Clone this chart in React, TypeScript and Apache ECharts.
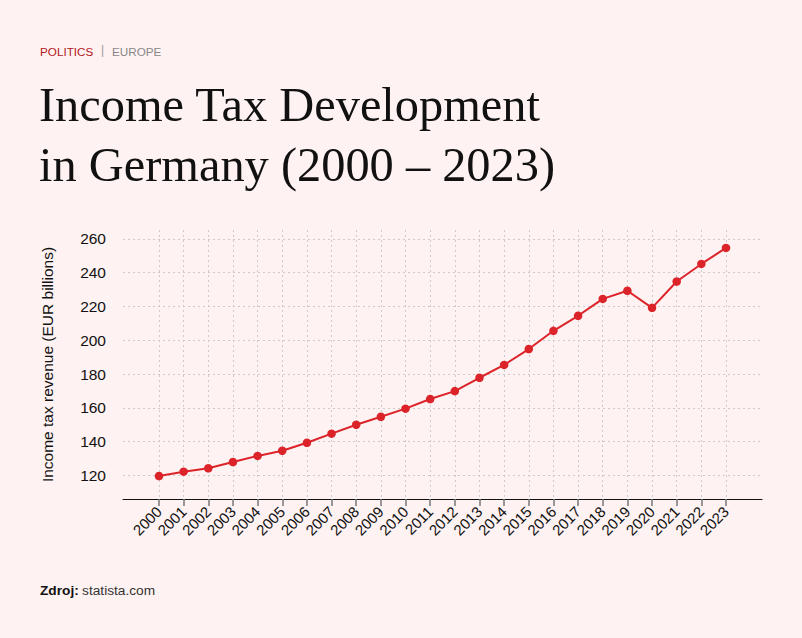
import React, { useEffect, useRef } from "react";
import * as echarts from "echarts";

const years = [
  "2000", "2001", "2002", "2003", "2004", "2005", "2006", "2007", "2008", "2009", "2010", "2011",
  "2012", "2013", "2014", "2015", "2016", "2017", "2018", "2019", "2020", "2021", "2022", "2023",
];
const revenue = [
  119.6, 122.2, 124.2, 127.9, 131.5, 134.6, 139.3, 144.7, 150.0, 154.7, 159.5, 165.2,
  169.9, 177.8, 185.4, 194.8, 205.6, 214.5, 224.5, 229.3, 219.2, 234.8, 245.2, 254.7,
];
const yTicks = [120, 140, 160, 180, 200, 220, 240, 260];

const BG = "#fef2f2";
const RED = "#dc2329";
const SANS = "'Liberation Sans', Arial, Helvetica, sans-serif";
const SERIF = "'Liberation Serif', 'Times New Roman', serif";

export default function App() {
  const ref = useRef<HTMLDivElement>(null);

  useEffect(() => {
    document.body.style.margin = "0";
    document.body.style.background = BG;
    if (!ref.current) return;
    const chart = echarts.init(ref.current, null, { renderer: "svg" });
    const yMin = 106;
    const yMax = 265.3;
    const gridTop = 230;
    const gridBottom = 139;
    chart.setOption({
      animation: false,
      backgroundColor: BG,
      graphic: [
        {
          type: "text",
          left: 40,
          top: 45,
          style: {
            text: "POLITICS",
            font: `11.7px ${SANS}`,
            fill: "#b3161c",
          },
        },
        {
          type: "text",
          left: 101,
          top: 44,
          style: { text: "|", font: `12px ${SANS}`, fill: "#9a9a9a" },
        },
        {
          type: "text",
          left: 112,
          top: 45,
          style: { text: "EUROPE", font: `11.7px ${SANS}`, fill: "#888888" },
        },
        {
          type: "text",
          left: 39,
          top: 80,
          style: {
            text: "Income Tax Development",
            font: `48.4px ${SERIF}`,
            fill: "#111111",
          },
        },
        {
          type: "text",
          left: 39,
          top: 140,
          style: {
            text: "in Germany (2000 – 2023)",
            font: `48.4px ${SERIF}`,
            fill: "#111111",
          },
        },
        {
          type: "text",
          left: 40,
          top: 583,
          style: {
            text: "{b|Zdroj:} {n|statista.com}",
            rich: {
              b: { font: `bold 13.7px ${SANS}`, fill: "#111111" },
              n: { font: `13.7px ${SANS}`, fill: "#333333" },
            },
          },
        },
      ],
      grid: [
        { left: 159, right: 76, top: gridTop, bottom: gridBottom },
        { left: 123, right: 40, top: gridTop, bottom: gridBottom },
      ],
      xAxis: [
        {
          type: "category",
          gridIndex: 0,
          data: years,
          boundaryGap: false,
          axisLine: { show: false },
          axisTick: { show: true, length: 7, lineStyle: { color: "#777777", width: 1.5 } },
          axisLabel: {
            rotate: 45,
            interval: 0,
            margin: 10,
            color: "#111111",
            fontSize: 15,
            fontFamily: SANS,
          },
          splitLine: {
            show: true,
            lineStyle: { color: "#cccccc", type: [2, 3], width: 1 },
          },
        },
        {
          type: "value",
          gridIndex: 1,
          min: 0,
          max: 1,
          axisLine: { show: true, lineStyle: { color: "#111111", width: 1 } },
          axisTick: { show: false },
          axisLabel: { show: false },
          splitLine: { show: false },
        },
      ],
      yAxis: [
        {
          type: "value",
          gridIndex: 0,
          min: yMin,
          max: yMax,
          show: false,
          splitLine: { show: false },
        },
        {
          type: "value",
          gridIndex: 1,
          min: yMin,
          max: yMax,
          name: "Income tax revenue (EUR billions)",
          nameLocation: "middle",
          nameGap: 68,
          nameTextStyle: { color: "#111111", fontSize: 15.5, fontFamily: SANS },
          axisLine: { show: false },
          axisTick: { show: false, customValues: yTicks },
          axisLabel: {
            customValues: yTicks,
            margin: 17,
            color: "#111111",
            fontSize: 15.5,
            fontFamily: SANS,
          },
          splitLine: {
            show: true,
            lineStyle: { color: "#cccccc", type: [2, 3], width: 1 },
          },
        },
      ],
      series: [
        {
          type: "line",
          xAxisIndex: 0,
          yAxisIndex: 0,
          data: revenue,
          symbol: "circle",
          symbolSize: 8.5,
          lineStyle: { color: RED, width: 2 },
          itemStyle: { color: RED },
          z: 5,
        },
      ],
    });
    return () => chart.dispose();
  }, []);

  return <div ref={ref} style={{ width: 802, height: 638 }} />;
}
